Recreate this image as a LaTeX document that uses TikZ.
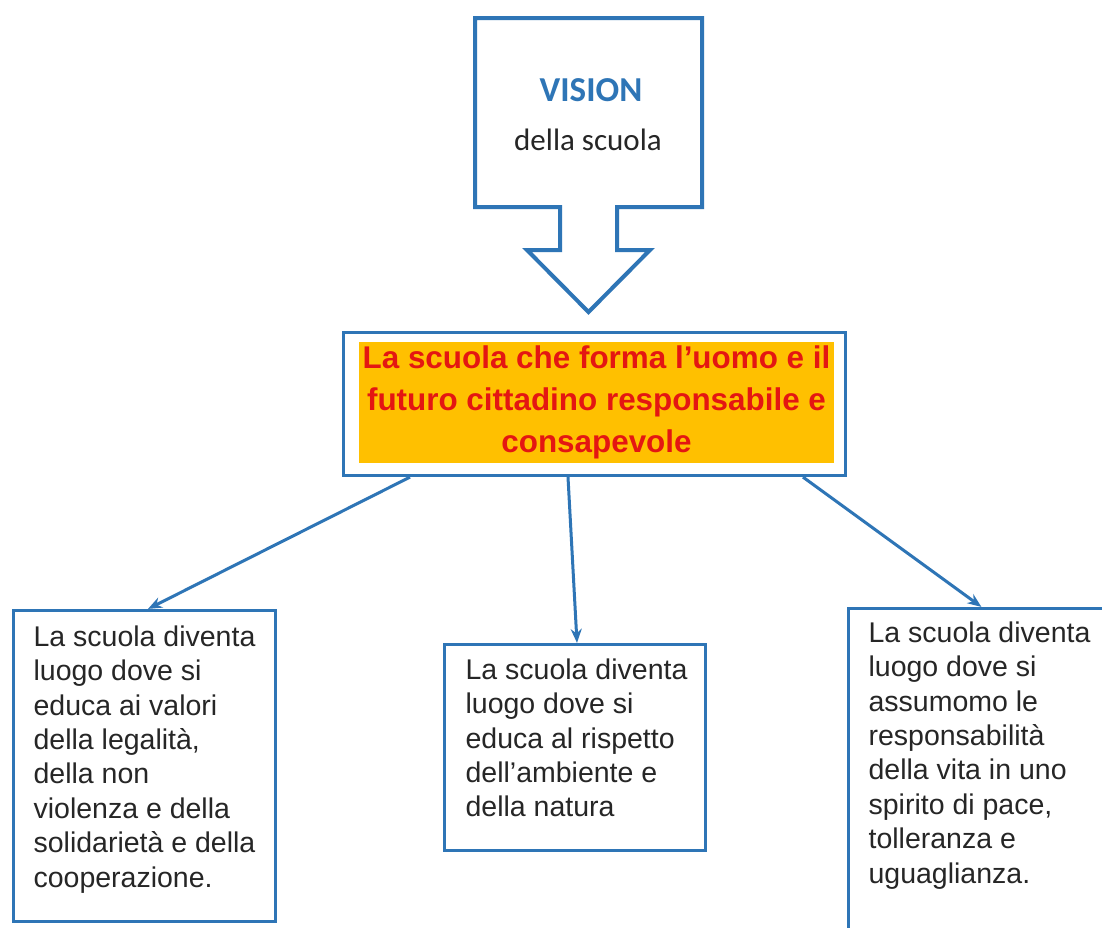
\documentclass[tikz,border=0pt]{standalone}
\usepackage{fontspec}
\setmainfont{Liberation Sans}
\newfontfamily\calibri{Carlito}
\usetikzlibrary{arrows.meta, positioning, calc}
\definecolor{boxblue}{RGB}{46,117,182}
\definecolor{goldfill}{RGB}{255,192,0}
\definecolor{titlered}{RGB}{228,22,18}

\begin{document}
\begin{tikzpicture}[x=1pt, y=-1pt,
    panel/.style = {draw=boxblue, line width=3.2pt, fill=white, inner sep=0pt},
    body/.style = {inner sep=0pt, anchor=north west, align=left, text=black!85, font=\fontsize{28.5}{34.4}\selectfont},
    link/.style = {draw=boxblue, line width=3pt, -{Stealth[length=14pt, width=11pt]}}
]
\useasboundingbox (0,0) rectangle (1102,927);
\clip (0,0) rectangle (1102,927);
\fill[white] (0,0) rectangle (1102,927);

% Vision callout
\draw [draw=boxblue, line width=4pt, line join=miter] (475,18) -- (702,18) -- (702,207) -- (617,207) -- (617,250) -- (650,250) -- (588.5,312) -- (527,250) -- (560,250) -- (560,207) -- (475,207) -- cycle;
\node (vision) [text=boxblue, font=\calibri\bfseries\fontsize{35}{40}\selectfont] at (591,90) {VISION};
\node (visionsub) [text=black!85, font=\calibri\fontsize{31}{36}\selectfont] at (588,140) {della scuola};

% Core statement
\node (core) [panel, minimum width=502pt, minimum height=143pt] at (594.5,404) {};
\node (coretext) [fill=goldfill, minimum width=473pt, minimum height=121pt, align=center, text=titlered, font=\bfseries\fontsize{31.4}{42}\selectfont] at (596.5,402.5) {La scuola che forma l’uomo e il\\futuro cittadino responsabile e\\consapevole};

% Leaf boxes
\node (legal) [panel, minimum width=262pt, minimum height=311pt] at (144.5,766) {};
\node (legaltext) [body, below right=16.5pt and 21.5pt of legal.north west] {La scuola diventa\\luogo dove si\\educa ai valori\\della legalità,\\della non\\violenza e della\\solidarietà e della\\cooperazione.};

\node (nature) [panel, minimum width=261pt, minimum height=206pt] at (575,747.5) {};
\node (naturetext) [body, below right=15.5pt and 22.5pt of nature.north west] {La scuola diventa\\luogo dove si\\educa al rispetto\\dell’ambiente e\\della natura};

\node (peace) [panel, minimum width=300pt, minimum height=360pt] at (998.5,788.5) {};
\node (peacetext) [body, below right=14.5pt and 21.5pt of peace.north west] {La scuola diventa\\luogo dove si\\assumomo le\\responsabilità\\della vita in uno\\spirito di pace,\\tolleranza e\\uguaglianza.};

% Links
\draw [link] ([xshift=-184.5pt]core.south) -- ([xshift=3.5pt]legal.north);
\draw [link] ([xshift=-26.5pt]core.south) -- ([xshift=2pt]nature.north);
\draw [link] ([xshift=208.5pt]core.south) -- ([xshift=134.5pt]peace.north west);

\end{tikzpicture}
\end{document}
